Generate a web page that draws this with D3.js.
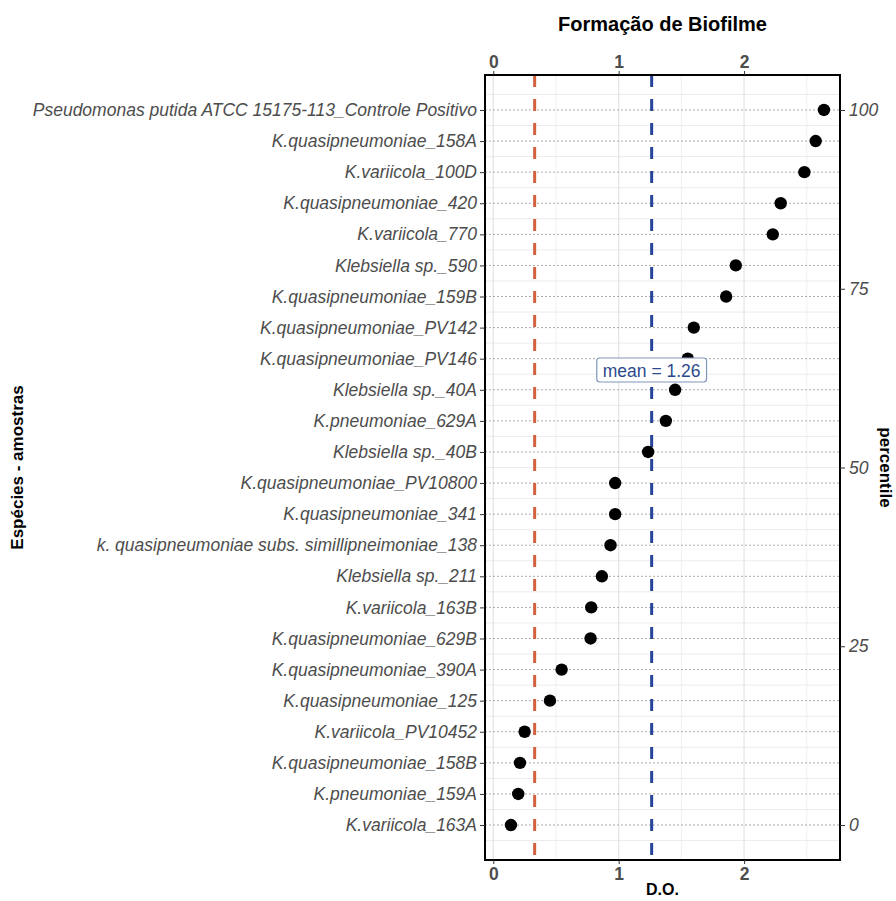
<!DOCTYPE html>
<html><head><meta charset="utf-8">
<script src="https://cdn.jsdelivr.net/npm/d3@7"></script>
<style>
body{margin:0;background:#fff;}
svg{display:block;font-family:"Liberation Sans",Arial,sans-serif;}
</style></head>
<body><svg id="c" width="896" height="901"></svg>
<script>
// categories from bottom to top
const categories = [
  "K.variicola_163A","K.pneumoniae_159A","K.quasipneumoniae_158B","K.variicola_PV10452",
  "K.quasipneumoniae_125","K.quasipneumoniae_390A","K.quasipneumoniae_629B","K.variicola_163B",
  "Klebsiella sp._211","k. quasipneumoniae subs. simillipneimoniae_138","K.quasipneumoniae_341",
  "K.quasipneumoniae_PV10800","Klebsiella sp._40B","K.pneumoniae_629A","Klebsiella sp._40A",
  "K.quasipneumoniae_PV146","K.quasipneumoniae_PV142","K.quasipneumoniae_159B","Klebsiella sp._590",
  "K.variicola_770","K.quasipneumoniae_420","K.variicola_100D","K.quasipneumoniae_158A",
  "Pseudomonas putida ATCC 15175-113_Controle Positivo"
];
const values = [
  0.141,0.199,0.213,0.250,
  0.452,0.545,0.776,0.781,
  0.866,0.935,0.972,
  0.972,1.235,1.376,1.450,
  1.551,1.599,1.857,1.934,
  2.229,2.292,2.481,2.571,
  2.637
];
const xTicks = [0,1,2];
const xMinor = [0.5,1.5,2.5];
const percentileTicks = [0,25,50,75,100];
const cutoff = 0.33;
const xDomain = [-0.066, 2.765];

const P={l:485,r:840,t:75,b:860};
const svg=d3.select("#c");
const FS=17.5;

const x=d3.scaleLinear().domain(xDomain).range([P.l,P.r]);
const y=d3.scalePoint().domain(categories).range([P.b,P.t]).padding(1.125);
const yp=d3.scaleLinear().domain([0,100]).range([y(categories[0]),y(categories[categories.length-1])]);
const meanVal=d3.mean(values);

const g=svg.append("g");
// minor vertical grid
g.selectAll(".vmin").data(xMinor).join("line")
 .attr("x1",d=>x(d)).attr("x2",d=>x(d)).attr("y1",P.t).attr("y2",P.b)
 .attr("stroke","#f0f0f0").attr("stroke-width",1);
// minor horizontal grid (between categories)
const step=y.step();
g.selectAll(".hmin").data(categories).join("line")
 .attr("x1",P.l).attr("x2",P.r)
 .attr("y1",d=>y(d)-step/2).attr("y2",d=>y(d)-step/2)
 .attr("stroke","#ececec").attr("stroke-width",1);
g.append("line").attr("x1",P.l).attr("x2",P.r)
 .attr("y1",y(categories[0])+step/2).attr("y2",y(categories[0])+step/2)
 .attr("stroke","#ececec").attr("stroke-width",1);
// major vertical grid
g.selectAll(".vmaj").data(xTicks).join("line")
 .attr("x1",d=>x(d)).attr("x2",d=>x(d)).attr("y1",P.t).attr("y2",P.b)
 .attr("stroke","#e3e3e3").attr("stroke-width",1.2);
// dotted category lines
g.selectAll(".hdot").data(categories).join("line")
 .attr("x1",P.l).attr("x2",P.r).attr("y1",d=>y(d)).attr("y2",d=>y(d))
 .attr("stroke","#ababab").attr("stroke-width",1).attr("stroke-dasharray","2,2");

// reference lines
g.append("line").attr("x1",x(cutoff)).attr("x2",x(cutoff)).attr("y1",P.t).attr("y2",P.b)
 .attr("stroke","#d4603d").attr("stroke-width",3).attr("stroke-dasharray","12,12");
g.append("line").attr("x1",x(meanVal)).attr("x2",x(meanVal)).attr("y1",P.t).attr("y2",P.b)
 .attr("stroke","#27449a").attr("stroke-width",3).attr("stroke-dasharray","12,12");

// points
g.selectAll(".pt").data(values).join("circle")
 .attr("cx",d=>x(d)).attr("cy",(d,i)=>y(categories[i])).attr("r",6.2).attr("fill","#000");

// mean label
const lbl=g.append("g");
const lt=lbl.append("text").attr("x",x(meanVal)).attr("y",376.5).attr("text-anchor","middle")
 .attr("font-size",FS).attr("fill","#2b4a8c").text("mean = "+d3.format(".2f")(meanVal));
const bb=lt.node().getBBox();
lbl.insert("rect","text").attr("x",bb.x-6).attr("y",358).attr("width",bb.width+12).attr("height",24)
 .attr("rx",3).attr("fill","#fff").attr("stroke","#8096bb").attr("stroke-width",1.2);

// panel border
svg.append("rect").attr("x",P.l).attr("y",P.t).attr("width",P.r-P.l).attr("height",P.b-P.t)
 .attr("fill","none").attr("stroke","#000").attr("stroke-width",2);

function styleAxis(sel,opts){
  sel.select(".domain").remove();
  sel.selectAll(".tick line").attr("stroke","#333").attr("stroke-width",1);
  sel.selectAll(".tick text").attr("fill","#4d4d4d").attr("font-size",FS)
   .attr("font-family","'Liberation Sans',Arial,sans-serif")
   .attr("font-style",opts.italic?"italic":"normal").attr("font-weight",opts.bold?"bold":"normal");
}
const axL=svg.append("g").attr("transform",`translate(${P.l},0)`)
 .call(d3.axisLeft(y).tickSize(5).tickPadding(3));
styleAxis(axL,{italic:true});
const axR=svg.append("g").attr("transform",`translate(${P.r},0)`)
 .call(d3.axisRight(yp).tickValues(percentileTicks).tickSize(5).tickPadding(4));
styleAxis(axR,{italic:true});
const axT=svg.append("g").attr("transform",`translate(0,${P.t})`)
 .call(d3.axisTop(x).tickValues(xTicks).tickFormat(d3.format("d")).tickSize(4).tickPadding(3));
styleAxis(axT,{bold:true});
const axB=svg.append("g").attr("transform",`translate(0,${P.b})`)
 .call(d3.axisBottom(x).tickValues(xTicks).tickFormat(d3.format("d")).tickSize(4).tickPadding(4));
styleAxis(axB,{bold:true});

const cx=(P.l+P.r)/2, cy=(P.t+P.b)/2;
svg.append("text").attr("x",cx).attr("y",31).attr("text-anchor","middle")
 .attr("font-size",20).attr("font-weight","bold").attr("fill","#000").text("Formação de Biofilme");
svg.append("text").attr("x",cx).attr("y",895).attr("text-anchor","middle")
 .attr("font-size",16).attr("font-weight","bold").attr("fill","#000").text("D.O.");
svg.append("text").attr("transform",`translate(23,${cy}) rotate(-90)`).attr("text-anchor","middle")
 .attr("font-size",17).attr("font-weight","bold").attr("fill","#000").text("Espécies - amostras");
svg.append("text").attr("transform",`translate(880,${cy}) rotate(90)`).attr("text-anchor","middle")
 .attr("font-size",17).attr("font-weight","bold").attr("fill","#000").text("percentile");
</script></body></html>
